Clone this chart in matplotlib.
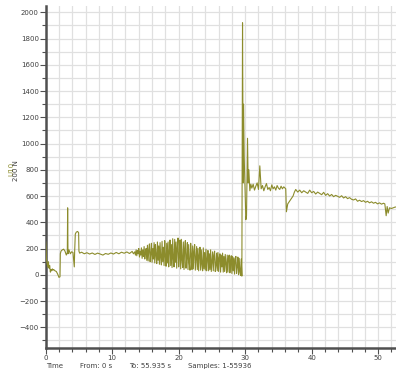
import numpy as np
import matplotlib
matplotlib.use("Agg")
import matplotlib.pyplot as plt
from matplotlib.ticker import MultipleLocator

# start-up section (0 - 13.2 s)
t_start = [0.0, 0.05, 0.1, 0.2, 0.3, 0.4, 0.5, 0.6, 0.7, 0.8, 0.9, 1.0, 1.1, 1.2, 1.4,
           1.6, 1.8, 2.0, 2.15, 2.2, 2.3, 2.5, 2.7, 2.9, 3.1, 3.25, 3.3, 3.35, 3.5, 3.7,
           3.9, 4.1, 4.3, 4.35, 4.45, 4.6, 4.8, 4.95, 5.0, 5.1, 5.4, 5.8, 6.2, 6.6, 7.0,
           7.4, 7.8, 8.2, 8.6, 9.0, 9.4, 9.8, 10.2, 10.6, 11.0, 11.4, 11.8, 12.2, 12.6,
           13.0, 13.2]
f_start = [250, 200, 120, 90, 60, 100, 50, 70, 20, 40, 30, 45, 35, 40, 30,
           25, 5, -20, -15, 160, 180, 190, 195, 180, 150, 170, 510, 160, 190, 160,
           175, 170, 60, 170, 310, 325, 330, 320, 180, 165, 172, 160, 168, 158, 166,
           155, 165, 158, 150, 162, 156, 166, 158, 170, 160, 172, 164, 174, 162,
           178, 160]

# oscillating section, sampled every 0.1 s (13.4 - 29.4 s)
t_osc = np.linspace(13.4, 29.4, 161)
f_osc = [175, 150, 190, 145, 185, 160, 200, 135, 180, 150,
         205, 125, 190, 140, 215, 120, 170, 200, 110, 225,
         105, 190, 235, 100, 160, 240, 95, 200, 120, 245,
         90, 230, 150, 85, 250, 110, 220, 80, 245, 130,
         75, 255, 100, 210, 70, 260, 140, 65, 240, 90,
         250, 60, 180, 265, 70, 230, 55, 275, 120, 60,
         270, 95, 250, 50, 210, 280, 60, 140, 265, 45,
         270, 110, 55, 250, 40, 200, 260, 50, 130, 245,
         40, 230, 90, 35, 240, 160, 40, 220, 45, 180,
         230, 35, 120, 215, 40, 200, 30, 150, 210, 35,
         190, 80, 30, 205, 45, 170, 35, 195, 30, 120,
         185, 30, 160, 40, 190, 25, 100, 175, 30, 150,
         180, 25, 70, 165, 30, 170, 25, 130, 160, 20,
         150, 60, 165, 20, 140, 25, 155, 90, 15, 150,
         20, 135, 150, 15, 100, 145, 10, 140, 30, 130,
         5, 120, 140, 10, 60, 135, 0, 125, 20, -5,
         120]

# impact
t_impact = [29.5, 29.6, 29.7, 29.75, 29.85, 30.0, 30.1, 30.2, 30.35, 30.45, 30.55,
            30.7, 30.85]
f_impact = [-10, 1920, 700, 1300, 900, 600, 420, 450, 1040, 700, 800, 640, 690]

# plateau, every 0.2 s (31 - 36 s)
t_plateau = np.linspace(31.0, 36.0, 26)
f_plateau = [660, 690, 645, 675, 700, 650, 830, 655, 680, 640, 670, 695, 650,
             665, 640, 685, 655, 670, 645, 680, 660, 650, 675, 655, 670, 660]

# drop and recovery
t_drop = [36.1, 36.2, 36.4, 36.8, 37.2, 37.4]
f_drop = [655, 480, 540, 570, 600, 630]

# slow decline, every 0.3 s (37.6 - 50.8 s)
t_tail = np.linspace(37.6, 50.8, 45)
f_tail = [650, 630, 645, 625, 640, 630, 620, 645, 625, 635,
          615, 630, 620, 610, 628, 605, 618, 600, 612, 595,
          605, 598, 590, 602, 585, 595, 580, 588, 575, 570,
          578, 560, 568, 558, 565, 552, 560, 548, 556, 545,
          552, 540, 548, 538, 545]

t_last = [51.0, 51.2, 51.35, 51.5, 51.7, 52.0, 52.5, 53.0]
f_last = [540, 450, 520, 470, 510, 505, 515, 520]

time_s = np.concatenate([t_start, t_osc, t_impact, t_plateau, t_drop, t_tail, t_last])
force_n = np.concatenate([f_start, f_osc, f_impact, f_plateau, f_drop, f_tail, f_last])

line_color = "#8c8c2c"
text_color = "#404040"

fig = plt.figure(figsize=(3.96, 3.73), dpi=100)
ax = fig.add_axes([0.1154, 0.067, 0.8846, 0.917])

ax.plot(time_s, force_n, color=line_color, lw=0.8, zorder=3)

ax.set_xlim(0, 52.68)
ax.set_ylim(-558, 2048)

ax.xaxis.set_major_locator(MultipleLocator(10))
ax.xaxis.set_minor_locator(MultipleLocator(2))
ax.yaxis.set_major_locator(MultipleLocator(200))
ax.yaxis.set_minor_locator(MultipleLocator(100))

ax.grid(True, which="both", color="#e0e0e0", lw=0.9, zorder=0)
ax.set_axisbelow(True)

for side in ["top", "right"]:
    ax.spines[side].set_visible(False)
for side in ["left", "bottom"]:
    ax.spines[side].set_color("#505050")
    ax.spines[side].set_linewidth(1.8)

ax.tick_params(which="both", direction="out", color="#505050", labelsize=5,
               labelcolor=text_color, width=0.8)
ax.tick_params(which="major", length=4, pad=1)
ax.tick_params(which="minor", length=3)

# channel name and unit, stacked vertically at the left
fig.text(0.028, 0.548, "U10", rotation=90, color=line_color, fontsize=5,
         ha="center", va="center")
fig.text(0.041, 0.543, "200 N", rotation=90, color=text_color, fontsize=5,
         ha="center", va="center")

y_txt = 1 - 366 / 373
fig.text(46 / 396, y_txt, "Time", fontsize=5, color=text_color, va="center")
fig.text(80 / 396, y_txt, "From: 0 s", fontsize=5, color=text_color, va="center")
fig.text(129 / 396, y_txt, "To: 55.935 s", fontsize=5, color=text_color, va="center")
fig.text(188 / 396, y_txt, "Samples: 1-55936", fontsize=5, color=text_color, va="center")

fig.savefig("out.png", dpi=100)
